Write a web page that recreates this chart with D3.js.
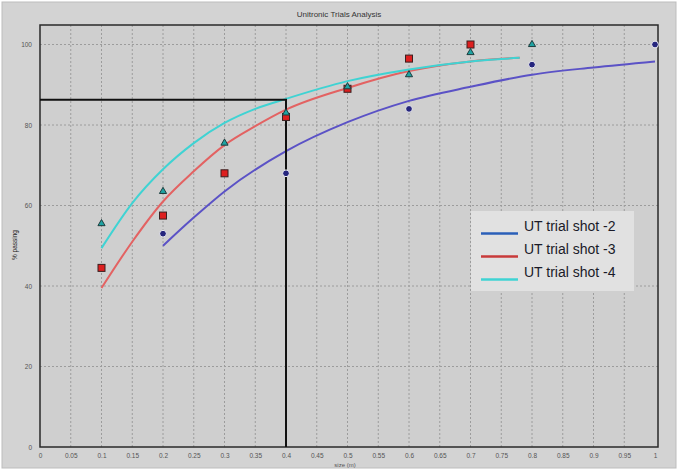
<!DOCTYPE html>
<html>
<head>
<meta charset="utf-8">
<script src="https://cdn.jsdelivr.net/npm/d3@7"></script>
<style>
  body { margin: 0; background: #fff; }
  text { font-family: "Liberation Sans", Arial, sans-serif; }
</style>
</head>
<body>
<div class="chart"></div>
<script>
// measured points
var shot2X = [0.2, 0.4, 0.6, 0.8, 1.0];
var shot2Y = [53, 68, 84, 95, 100];
var shot3X = [0.1, 0.2, 0.3, 0.4, 0.5, 0.6, 0.7];
var shot3Y = [44.5, 57.5, 68, 82, 89, 96.5, 100];
var shot4X = [0.1, 0.2, 0.3, 0.4, 0.5, 0.6, 0.7, 0.8];
var shot4Y = [55.5, 63.5, 75.5, 83, 89.5, 92.5, 98, 100];

// fitted curves
var fit2X = [0.2, 0.25, 0.3, 0.4, 0.5, 0.6, 0.7, 0.8, 0.9, 1.0];
var fit2Y = [50, 57, 63.5, 73.5, 80.7, 86, 89.5, 92.5, 94.3, 95.8];
var fit3X = [0.1, 0.15, 0.2, 0.25, 0.3, 0.35, 0.4, 0.5, 0.6, 0.7, 0.78];
var fit3Y = [39.5, 51, 61, 68.5, 75, 79.7, 83.8, 89.2, 93.4, 95.8, 96.7];
var fit4X = [0.1, 0.15, 0.2, 0.25, 0.3, 0.35, 0.4, 0.5, 0.6, 0.7, 0.78];
var fit4Y = [49.4, 60.6, 69, 75.5, 80.5, 84, 86.5, 90.9, 93.8, 95.8, 96.7];

// the 0.4 mm read-off
var markX = 0.4;
var markY = 86.3;

var seriesNames = ["UT trial shot -2", "UT trial shot -3", "UT trial shot -4"];
var xTicks = d3.range(0, 21).map(d => d / 20);
var yTicks = [0, 20, 40, 60, 80, 100];

var W = 678, H = 470;
var box = { left: 40, right: 658, top: 25, bottom: 447 };

var x = d3.scaleLinear().domain([0, 1]).range([40, 655]);
var y = d3.scaleLinear().domain([0, 100]).range([447, 44.5]);

var svg = d3.select('.chart').append('svg')
    .attr('width', W)
    .attr('height', H);

svg.append('rect')
    .attr('x', 2).attr('y', 2).attr('width', W - 4).attr('height', H - 4)
    .attr('fill', '#d3d3d3').attr('stroke', '#bdbdbd');

svg.append('rect')
    .attr('x', box.left).attr('y', box.top)
    .attr('width', box.right - box.left).attr('height', box.bottom - box.top)
    .attr('fill', '#cfcfcf');

svg.append('text')
    .attr('x', 339).attr('y', 17)
    .attr('text-anchor', 'middle')
    .attr('font-size', 8).attr('fill', '#333')
    .text('Unitronic Trials Analysis');

// grid
var grid = svg.append('g')
    .attr('stroke', '#9c9c9c').attr('stroke-dasharray', '2,2');
grid.selectAll('.vx').data(xTicks.slice(1, -1)).enter().append('line')
    .attr('x1', d => x(d)).attr('x2', d => x(d))
    .attr('y1', box.top).attr('y2', box.bottom);
grid.selectAll('.hy').data(yTicks.slice(1)).enter().append('line')
    .attr('x1', box.left).attr('x2', box.right)
    .attr('y1', d => y(d)).attr('y2', d => y(d));

// axes
var xAxis = d3.axisBottom(x).tickValues(xTicks).tickSize(0).tickPadding(6)
    .tickFormat(d => d3.format('~g')(d));
var gx = svg.append('g').attr('transform', `translate(0,${box.bottom})`).call(xAxis);
gx.select('.domain').remove();
gx.selectAll('text').attr('font-size', 6.5).attr('fill', '#555').attr('font-family', 'Liberation Sans, Arial');

var yAxis = d3.axisLeft(y).tickValues(yTicks).tickSize(0).tickPadding(8);
var gy = svg.append('g').attr('transform', `translate(${box.left},0)`).call(yAxis);
gy.select('.domain').remove();
gy.selectAll('text').attr('font-size', 6.5).attr('fill', '#555').attr('font-family', 'Liberation Sans, Arial');

svg.append('text')
    .attr('x', 345).attr('y', 467)
    .attr('text-anchor', 'middle')
    .attr('font-size', 6).attr('fill', '#555')
    .text('size (m)');

svg.append('text')
    .attr('transform', 'translate(17,245) rotate(-90)')
    .attr('text-anchor', 'middle')
    .attr('font-size', 6.5).attr('fill', '#222')
    .text('% passing');

// frame
svg.append('rect')
    .attr('x', box.left).attr('y', box.top)
    .attr('width', box.right - box.left).attr('height', box.bottom - box.top)
    .attr('fill', 'none').attr('stroke', '#2a2a2a').attr('stroke-width', 1.5);

// fitted curves
var line = d3.line().x(d => x(d[0])).y(d => y(d[1])).curve(d3.curveMonotoneX);
var fits = [
    { xs: fit2X, ys: fit2Y, color: '#5b52c6' },
    { xs: fit3X, ys: fit3Y, color: '#e36262' },
    { xs: fit4X, ys: fit4Y, color: '#3fd3d3' }
];
svg.selectAll('.fit').data(fits).enter().append('path')
    .attr('d', f => line(d3.zip(f.xs, f.ys)))
    .attr('fill', 'none')
    .attr('stroke', f => f.color)
    .attr('stroke-width', 2);

// read-off lines
svg.append('path')
    .attr('d', `M${x(0)},${y(markY)}H${x(markX)}V${y(0)}`)
    .attr('fill', 'none').attr('stroke', '#111').attr('stroke-width', 2);

// points
svg.selectAll('.p2').data(d3.zip(shot2X, shot2Y)).enter().append('circle')
    .attr('cx', d => x(d[0])).attr('cy', d => y(d[1])).attr('r', 3.4)
    .attr('fill', '#26267e').attr('stroke', '#f2f2f2').attr('stroke-width', 1);

svg.selectAll('.p3').data(d3.zip(shot3X, shot3Y)).enter().append('rect')
    .attr('x', d => x(d[0]) - 3.5).attr('y', d => y(d[1]) - 3.5)
    .attr('width', 7).attr('height', 7)
    .attr('fill', '#dd1f1f').attr('stroke', '#3a2020').attr('stroke-width', 1);

var tri = d3.symbol().type(d3.symbolTriangle).size(22);
svg.selectAll('.p4').data(d3.zip(shot4X, shot4Y)).enter().append('path')
    .attr('d', tri)
    .attr('transform', d => `translate(${x(d[0])},${y(d[1])})`)
    .attr('fill', '#1fa3a3').attr('stroke', '#1d3d3d').attr('stroke-width', 1);

// legend
var legend = svg.append('g');
legend.append('rect')
    .attr('x', 471).attr('y', 211).attr('width', 163).attr('height', 80)
    .attr('fill', '#e1e1e1');
var legendColors = ['#2a5fb8', '#c83a3a', '#3fd3d3'];
var items = legend.selectAll('.item').data(seriesNames).enter().append('g')
    .attr('transform', (d, i) => `translate(0,${i * 23})`);
items.append('line')
    .attr('x1', 481).attr('x2', 518).attr('y1', 233.5).attr('y2', 233.5)
    .attr('stroke', (d, i) => legendColors[i]).attr('stroke-width', 2.5);
items.append('text')
    .attr('x', 524).attr('y', 231)
    .attr('font-size', 14).attr('fill', '#1a1a28')
    .text(d => d);
</script>
</body>
</html>
